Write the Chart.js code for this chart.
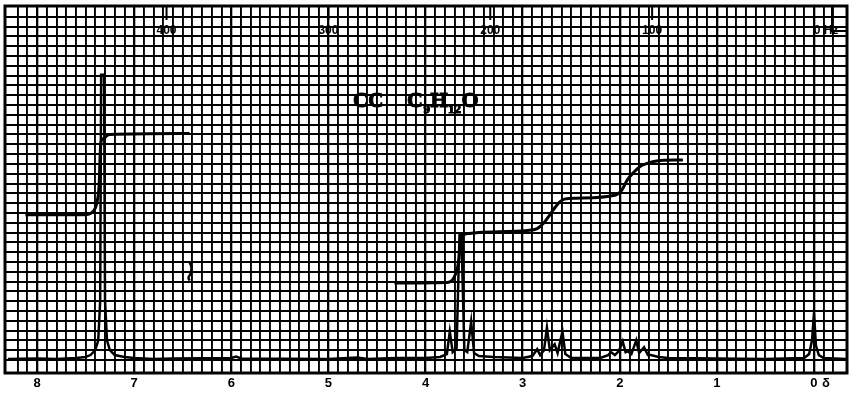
<!DOCTYPE html>
<html>
<head>
<meta charset="utf-8">
<script src="https://cdn.jsdelivr.net/npm/chart.js@4.4.1/dist/chart.umd.min.js"></script>
<style>
html,body{margin:0;padding:0;background:#fff;}
#wrap{width:851px;height:394px;}
</style>
</head>
<body>
<div id="wrap"><canvas id="c" width="851" height="394"></canvas></div>
<script>
// ---- data (chemical shift in ppm, height in chart-grid rows above baseline) ----
const ppmLabels = [8, 7, 6, 5, 4, 3, 2, 1, 0];
const hzLabels = [400, 300, 200, 100, 0];
const spectrometerMHz = 60;
const titleMain = "CC";
const formulaParts = [["C", false], ["9", true], ["H", false], ["12", true], ["O", false]];

const spectrumPpm = [8.30, 8.00, 7.80, 7.60, 7.50, 7.45, 7.40, 7.37, 7.35, 7.34, 7.31, 7.30, 7.28, 7.25, 7.20, 7.10, 7.00, 6.80, 6.60, 6.00, 5.95, 5.90, 5.00, 4.70, 4.60, 4.30, 4.00, 3.85, 3.78, 3.75, 3.72, 3.68, 3.65, 3.63, 3.60, 3.57, 3.53, 3.50, 3.45, 3.30, 3.00, 2.90, 2.85, 2.82, 2.78, 2.75, 2.72, 2.67, 2.64, 2.59, 2.56, 2.50, 2.20, 2.12, 2.09, 2.05, 2.01, 1.97, 1.94, 1.92, 1.88, 1.83, 1.80, 1.75, 1.71, 1.68, 1.60, 1.50, 0.50, 0.10, 0.05, 0.02, 0.00, -0.02, -0.05, -0.10, -0.33];
const spectrumHeight = [0.1, 0.15, 0.1, 0.2, 0.3, 0.5, 1.0, 2.0, 6.0, 29.1, 29.1, 6.0, 2.0, 1.0, 0.5, 0.3, 0.2, 0.1, 0.15, 0.2, 0.35, 0.15, 0.1, 0.25, 0.1, 0.2, 0.2, 0.3, 0.6, 2.9, 0.8, 1.2, 12.8, 12.8, 1.0, 0.8, 3.9, 0.7, 0.4, 0.3, 0.2, 0.4, 1.1, 0.5, 1.0, 3.3, 1.0, 1.6, 0.7, 2.9, 0.6, 0.2, 0.2, 0.5, 0.8, 0.5, 0.9, 1.9, 0.8, 0.9, 0.6, 2.0, 0.7, 1.3, 0.5, 0.5, 0.3, 0.2, 0.1, 0.2, 0.6, 2.0, 4.8, 1.5, 0.5, 0.2, 0.1];

const integral1Ppm = [8.12, 7.52, 7.44, 7.40, 7.38, 7.36, 7.35, 7.34, 7.31, 7.28, 7.25, 6.43];
const integral1Height = [14.8, 14.8, 15.0, 15.5, 16.2, 18.0, 21.0, 22.3, 22.6, 22.9, 23.0, 23.1];

const integral2Ppm = [4.32, 3.78, 3.72, 3.69, 3.66, 3.64, 3.62, 3.60, 3.55, 3.45, 2.95, 2.85, 2.78, 2.72, 2.67, 2.62, 2.57, 2.45, 2.05, 1.98, 1.92, 1.85, 1.78, 1.70, 1.62, 1.35];
const integral2Height = [7.85, 7.9, 8.2, 8.8, 10.0, 12.0, 12.6, 12.8, 12.9, 13.0, 13.2, 13.4, 14.0, 14.8, 15.5, 16.1, 16.4, 16.5, 16.8, 17.3, 18.4, 19.2, 19.8, 20.1, 20.3, 20.4];

const squigglePpm = [6.43, 6.41, 6.42, 6.44, 6.43];
const squiggleHeight = [10.0, 9.4, 8.8, 8.4, 8.1];

const pts = (xs, ys) => xs.map((x, i) => ({x: x, y: ys[i]}));

const isWhole = v => Math.abs(v - Math.round(v)) < 1e-6;

const overlay = {
  id: 'overlay',
  afterDraw(chart) {
    const ctx = chart.ctx, a = chart.chartArea, xs = chart.scales.x;
    ctx.save();
    // frame
    ctx.strokeStyle = '#000';
    ctx.lineWidth = 3;
    ctx.strokeRect(a.left, a.top, a.right - a.left, a.bottom - a.top);
    // Hz scale on top
    ctx.fillStyle = '#000';
    ctx.font = 'bold 12px "Liberation Sans", Arial, sans-serif';
    ctx.textAlign = 'center';
    ctx.textBaseline = 'middle';
    hzLabels.forEach(h => {
      const px = xs.getPixelForValue(h / spectrometerMHz);
      ctx.lineWidth = 2;
      ctx.beginPath();
      ctx.moveTo(px, a.top);
      ctx.lineTo(px, a.top + 14);
      ctx.stroke();
      ctx.fillText(h === 0 ? '0 Hz' : String(h), px + (h === 0 ? 12 : 0), a.top + 25);
    });
    // small box at top right
    ctx.lineWidth = 2;
    ctx.strokeRect(a.right - 15, a.top, 15, 25);
    // delta next to 0
    ctx.font = 'bold 13px "Liberation Sans", Arial, sans-serif';
    ctx.textBaseline = 'middle';
    const p0 = xs.getPixelForValue(0);
    ctx.fillText('δ', p0 + 12, a.bottom + 4 + 6.5);
    // title
    ctx.textAlign = 'left';
    ctx.textBaseline = 'alphabetic';
    ctx.lineWidth = 1;
    ctx.font = 'bold 21px "Liberation Serif", "Times New Roman", serif';
    ctx.fillText(titleMain, 353, 107);
    ctx.strokeText(titleMain, 353, 107);
    let x = 407;
    formulaParts.forEach(([t, sub]) => {
      ctx.font = sub ? 'bold 13px "Liberation Serif", serif' : 'bold 22px "Liberation Serif", serif';
      const yy = sub ? 113 : 107;
      ctx.fillText(t, x, yy);
      ctx.strokeText(t, x, yy);
      x += ctx.measureText(t).width + 0.5;
    });
    ctx.restore();
  }
};

new Chart(document.getElementById('c'), {
  type: 'line',
  data: {
    datasets: [
      {data: pts(spectrumPpm, spectrumHeight), borderColor: '#000', borderWidth: 2.5, pointRadius: 0, tension: 0, fill: false},
      {data: pts(integral1Ppm, integral1Height), borderColor: '#000', borderWidth: 3, pointRadius: 0, cubicInterpolationMode: 'monotone', fill: false},
      {data: pts(integral2Ppm, integral2Height), borderColor: '#000', borderWidth: 3, pointRadius: 0, cubicInterpolationMode: 'monotone', fill: false},
      {data: pts(squigglePpm, squiggleHeight), borderColor: '#000', borderWidth: 2.5, pointRadius: 0, tension: 0.4, fill: false}
    ]
  },
  options: {
    responsive: false,
    animation: false,
    devicePixelRatio: 1,
    layout: {padding: {left: 5, right: 3, top: 6, bottom: 0}},
    plugins: {legend: {display: false}, tooltip: {enabled: false}},
    scales: {
      x: {
        type: 'linear', reverse: true, min: -0.34, max: 8.33,
        border: {display: false},
        grid: {
          color: '#000',
          lineWidth: c => (c.tick && isWhole(c.tick.value)) ? 2.3 : 1.9,
          drawTicks: false
        },
        ticks: {
          stepSize: 0.1, autoSkip: false, maxRotation: 0, padding: 4,
          color: '#000',
          font: {family: '"Liberation Sans", Arial, sans-serif', size: 13, weight: 'bold', lineHeight: 1},
          callback: v => (isWhole(v) && ppmLabels.includes(Math.round(v))) ? String(Math.round(v)) : ''
        }
      },
      y: {
        type: 'linear', min: -1.33, max: 36.1,
        border: {display: false},
        grid: {color: '#000', lineWidth: 1.9, drawTicks: false},
        ticks: {display: false, stepSize: 1}
      }
    }
  },
  plugins: [overlay]
});
</script>
</body>
</html>
